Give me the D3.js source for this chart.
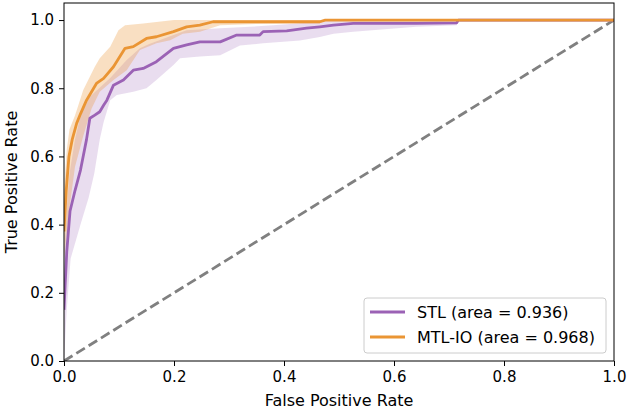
<!DOCTYPE html>
<html>
<head>
<meta charset="utf-8">
<script src="https://cdn.jsdelivr.net/npm/d3@7"></script>
<style>
  body { margin: 0; background: #fff; }
  text { font-family: "DejaVu Sans", sans-serif; fill: #000; }
</style>
</head>
<body>
<div id="chart"></div>
<script>
// svg params
var svgWidth = 629;
var svgHeight = 412;
var margin = { top: 3, right: 15, bottom: 51, left: 64 };
var chartWidth = svgWidth - margin.left - margin.right;
var chartHeight = svgHeight - margin.top - margin.bottom;

// mean ROC curves
var stlFpr = [0, 0.002, 0.005, 0.011, 0.02, 0.03, 0.041, 0.047, 0.056, 0.065, 0.072, 0.078, 0.09, 0.108, 0.126, 0.144, 0.168, 0.199, 0.223, 0.247, 0.284, 0.314, 0.338, 0.356, 0.362, 0.405, 0.441, 0.465, 0.49, 0.526, 0.611, 0.641, 0.714, 0.717, 1];
var stlTpr = [0.15, 0.22, 0.32, 0.44, 0.50, 0.56, 0.65, 0.712, 0.721, 0.731, 0.75, 0.765, 0.809, 0.824, 0.853, 0.858, 0.878, 0.917, 0.927, 0.936, 0.936, 0.956, 0.956, 0.956, 0.966, 0.968, 0.976, 0.98, 0.985, 0.99, 0.99, 0.99, 0.992, 1, 1];

var mtlFpr = [0, 0.004, 0.009, 0.015, 0.023, 0.03, 0.041, 0.059, 0.072, 0.09, 0.111, 0.126, 0.15, 0.168, 0.199, 0.223, 0.247, 0.271, 0.465, 0.475, 1];
var mtlTpr = [0.38, 0.5, 0.6, 0.65, 0.697, 0.725, 0.765, 0.814, 0.829, 0.863, 0.917, 0.922, 0.946, 0.951, 0.966, 0.98, 0.985, 0.995, 0.995, 1, 1];

// std bands (lower / upper edges)
var stlLowFpr = [0, 0.005, 0.012, 0.03, 0.045, 0.055, 0.065, 0.072, 0.084, 0.096, 0.126, 0.15, 0.168, 0.199, 0.211, 0.247, 0.284, 0.32, 0.362, 0.429, 0.465, 0.49, 0.526, 0.6, 0.641, 0.714, 0.717, 1];
var stlLow = [0, 0.15, 0.3, 0.4, 0.48, 0.55, 0.65, 0.7, 0.765, 0.78, 0.79, 0.8, 0.824, 0.868, 0.888, 0.893, 0.897, 0.925, 0.932, 0.94, 0.95, 0.96, 0.966, 0.975, 0.98, 0.985, 1, 1];
var stlUpFpr = [0, 0.005, 0.01, 0.02, 0.03, 0.047, 0.084, 0.114, 0.138, 0.155, 0.199, 0.223, 0.284, 0.338, 0.38, 0.465, 0.48, 1];
var stlUp = [0.3, 0.45, 0.55, 0.65, 0.72, 0.775, 0.83, 0.883, 0.917, 0.93, 0.956, 0.97, 0.976, 0.98, 0.985, 0.995, 1, 1];

var mtlLowFpr = [0, 0.01, 0.02, 0.035, 0.05, 0.065, 0.09, 0.114, 0.138, 0.168, 0.193, 0.216, 0.247, 0.284, 0.338, 0.465, 0.475, 1];
var mtlLow = [0.3, 0.45, 0.57, 0.66, 0.74, 0.79, 0.824, 0.853, 0.912, 0.932, 0.941, 0.96, 0.966, 0.985, 0.988, 0.99, 1, 1];
var mtlUpFpr = [0, 0.005, 0.01, 0.02, 0.035, 0.056, 0.065, 0.084, 0.099, 0.111, 0.144, 0.2, 1];
var mtlUp = [0.5, 0.62, 0.68, 0.72, 0.795, 0.863, 0.888, 0.922, 0.97, 0.985, 0.99, 1, 1];

var seriesNames = ["STL (area = 0.936)", "MTL-IO (area = 0.968)"];
var seriesColors = ["#9b62b5", "#ea9534"];
var xTicks = [0, 0.2, 0.4, 0.6, 0.8, 1.0];
var yTicks = [0, 0.2, 0.4, 0.6, 0.8, 1.0];

var svg = d3.select("#chart")
  .append("svg")
  .attr("width", svgWidth)
  .attr("height", svgHeight);

var chartGroup = svg.append("g")
  .attr("transform", `translate(${margin.left}, ${margin.top})`);

var xScale = d3.scaleLinear().domain([0, 1]).range([0, chartWidth]);
var yScale = d3.scaleLinear().domain([0, 1.05]).range([chartHeight, 0]);

var clip = chartGroup.append("clipPath").attr("id", "clip")
  .append("rect").attr("width", chartWidth).attr("height", chartHeight);

var plot = chartGroup.append("g").attr("clip-path", "url(#clip)");

function zipPts(xs, ys) { return xs.map((x, i) => [x, ys[i]]); }

var line = d3.line()
  .x(d => xScale(d[0]))
  .y(d => yScale(d[1]));

function band(lowX, low, upX, up) {
  var pts = zipPts(upX, up).concat(zipPts(lowX, low).reverse());
  return line(pts) + "Z";
}

// bands
plot.append("path")
  .attr("d", band(stlLowFpr, stlLow, stlUpFpr, stlUp))
  .attr("fill", seriesColors[0])
  .attr("fill-opacity", 0.22);
plot.append("path")
  .attr("d", band(mtlLowFpr, mtlLow, mtlUpFpr, mtlUp))
  .attr("fill", seriesColors[1])
  .attr("fill-opacity", 0.3);

// chance line
plot.append("path")
  .attr("d", line([[0, 0], [1, 1]]))
  .attr("fill", "none")
  .attr("stroke", "#808080")
  .attr("stroke-width", 2.8)
  .attr("stroke-dasharray", "10,4.5");

// mean curves
plot.append("path")
  .attr("d", line(zipPts(stlFpr, stlTpr)))
  .attr("fill", "none")
  .attr("stroke", seriesColors[0])
  .attr("stroke-width", 2.8)
  .attr("stroke-linejoin", "round");
plot.append("path")
  .attr("d", line(zipPts(mtlFpr, mtlTpr)))
  .attr("fill", "none")
  .attr("stroke", seriesColors[1])
  .attr("stroke-width", 2.8)
  .attr("stroke-linejoin", "round");

// axes
var bottomAxis = d3.axisBottom(xScale).tickValues(xTicks).tickFormat(d3.format(".1f")).tickSize(5).tickPadding(5);
var leftAxis = d3.axisLeft(yScale).tickValues(yTicks).tickFormat(d3.format(".1f")).tickSize(5).tickPadding(5);

var gx = chartGroup.append("g")
  .attr("transform", `translate(0, ${chartHeight})`)
  .call(bottomAxis);
var gy = chartGroup.append("g").call(leftAxis);
[gx, gy].forEach(g => {
  g.select(".domain").remove();
  g.selectAll("line").attr("stroke", "#000").attr("stroke-width", 1);
  g.selectAll("text").style("font-family", "DejaVu Sans").style("font-size", "15px").attr("fill", "#000");
});

// frame
chartGroup.append("rect")
  .attr("width", chartWidth)
  .attr("height", chartHeight)
  .attr("fill", "none")
  .attr("stroke", "#000")
  .attr("stroke-width", 1);

// axis labels
chartGroup.append("text")
  .attr("x", chartWidth / 2)
  .attr("y", chartHeight + 45)
  .attr("text-anchor", "middle")
  .style("font-size", "16px")
  .text("False Positive Rate");
chartGroup.append("text")
  .attr("transform", `translate(${-47}, ${chartHeight / 2}) rotate(-90)`)
  .attr("text-anchor", "middle")
  .style("font-size", "16px")
  .text("True Positive Rate");

// legend
var legend = chartGroup.append("g")
  .attr("transform", `translate(${chartWidth - 250}, ${chartHeight - 63})`);
legend.append("rect")
  .attr("width", 242)
  .attr("height", 55)
  .attr("rx", 3)
  .attr("fill", "#fff")
  .attr("fill-opacity", 0.8)
  .attr("stroke", "#cccccc");
seriesNames.forEach((name, i) => {
  legend.append("line")
    .attr("x1", 6).attr("x2", 41)
    .attr("y1", 14 + i * 25).attr("y2", 14 + i * 25)
    .attr("stroke", seriesColors[i])
    .attr("stroke-width", 2.8);
  legend.append("text")
    .attr("x", 53)
    .attr("y", 14 + i * 25)
    .attr("dy", "0.35em")
    .style("font-size", "16px")
    .text(name);
});
</script>
</body>
</html>
